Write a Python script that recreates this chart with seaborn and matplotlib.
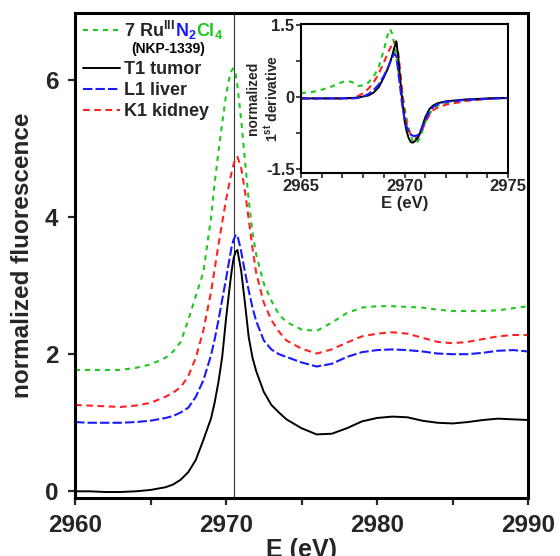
import numpy as np
import pandas as pd
import matplotlib
matplotlib.use("Agg")
import matplotlib.pyplot as plt
from matplotlib.ticker import MultipleLocator, FixedLocator
import seaborn as sns

# ---------------- data ----------------
energy_main = [2960, 2961, 2962, 2963, 2964, 2965, 2966, 2966.5, 2967, 2967.5,
               2968, 2968.5, 2969, 2969.25, 2969.5, 2969.75, 2970, 2970.25,
               2970.375, 2970.5, 2970.625, 2970.75, 2971, 2971.25, 2971.5,
               2971.75, 2972, 2972.5, 2973, 2973.5, 2974, 2975, 2976,
               2977, 2978, 2979, 2980, 2981, 2982, 2983, 2984, 2985, 2986, 2987,
               2988, 2989, 2990]
nkp1339 = [1.77, 1.77, 1.77, 1.77, 1.80, 1.85, 1.95, 2.04, 2.18, 2.50,
           2.85, 3.20, 3.98, 4.50, 4.96, 5.38, 5.78, 6.07,
           6.14, 6.17, 6.10, 5.92, 5.42, 4.83, 4.25,
           3.78, 3.45, 3.03, 2.78, 2.58, 2.47, 2.36, 2.34,
           2.46, 2.60, 2.68, 2.70, 2.70, 2.69, 2.68, 2.65, 2.63, 2.63, 2.63,
           2.64, 2.67, 2.70]
t1_tumor = [0.00, 0.00, -0.01, -0.01, 0.00, 0.02, 0.06, 0.10, 0.17, 0.28,
            0.46, 0.75, 1.06, 1.30, 1.60, 1.97, 2.52, 3.00,
            3.22, 3.40, 3.49, 3.52, 3.22, 2.75, 2.25,
            1.95, 1.75, 1.45, 1.26, 1.15, 1.05, 0.92, 0.83,
            0.84, 0.92, 1.02, 1.07, 1.09, 1.08, 1.03, 1.00, 0.99, 1.01, 1.04,
            1.06, 1.05, 1.04]
l1_liver = [1.01, 1.00, 1.00, 1.00, 1.01, 1.03, 1.07, 1.10, 1.15, 1.22,
            1.38, 1.62, 1.98, 2.22, 2.50, 2.80, 3.10, 3.42,
            3.57, 3.67, 3.73, 3.74, 3.50, 3.20, 2.93,
            2.68, 2.48, 2.20, 2.07, 2.00, 1.96, 1.88, 1.82,
            1.86, 1.96, 2.03, 2.06, 2.07, 2.06, 2.04, 2.01, 2.00, 2.00, 2.02,
            2.05, 2.06, 2.04]
k1_kidney = [1.26, 1.25, 1.24, 1.23, 1.25, 1.29, 1.38, 1.44, 1.52, 1.68,
             1.95, 2.35, 2.90, 3.25, 3.60, 3.93, 4.25, 4.53,
             4.66, 4.77, 4.85, 4.88, 4.72, 4.38, 3.97,
             3.55, 3.18, 2.75, 2.50, 2.33, 2.20, 2.08, 2.01,
             2.07, 2.17, 2.26, 2.30, 2.32, 2.30, 2.24, 2.18, 2.16, 2.18, 2.22,
             2.26, 2.28, 2.28]

energy_deriv = [2965, 2965.5, 2966, 2966.5, 2967, 2967.25, 2967.5, 2967.75, 2968,
                2968.25, 2968.5, 2968.75, 2969, 2969.2, 2969.3, 2969.4, 2969.5,
                2969.6, 2969.7, 2969.8, 2969.9, 2970, 2970.1, 2970.2, 2970.3,
                2970.4, 2970.5, 2970.6, 2970.7, 2970.8, 2970.9, 2971, 2971.2,
                2971.4, 2971.6, 2971.8, 2972, 2972.5, 2973, 2973.5, 2974, 2974.5,
                2975]
d_nkp1339 = [0.08, 0.10, 0.15, 0.22, 0.31, 0.34, 0.30, 0.23, 0.24,
             0.30, 0.42, 0.62, 0.98, 1.32, 1.41, 1.32, 1.10,
             0.82, 0.55, 0.30, 0.05, -0.22, -0.45, -0.65, -0.80,
             -0.93, -0.97, -0.95, -0.88, -0.78, -0.65, -0.52, -0.35,
             -0.24, -0.18, -0.15, -0.13, -0.10, -0.07, -0.05, -0.04, -0.03,
             -0.02]
d_t1_tumor = [-0.03, -0.03, -0.03, -0.03, -0.03, -0.02, -0.02, -0.01, 0.01,
              0.03, 0.09, 0.20, 0.41, 0.60, 0.72, 0.86, 1.02,
              1.16, 0.80, 0.30, -0.12, -0.50, -0.72, -0.86, -0.94,
              -0.95, -0.92, -0.87, -0.80, -0.68, -0.55, -0.42, -0.25,
              -0.17, -0.13, -0.11, -0.09, -0.07, -0.05, -0.04, -0.03, -0.02,
              -0.02]
d_l1_liver = [-0.03, -0.03, -0.03, -0.03, -0.03, -0.03, -0.03, -0.02, 0.01,
              0.06, 0.14, 0.26, 0.44, 0.62, 0.72, 0.82, 0.90,
              0.85, 0.50, 0.15, -0.22, -0.45, -0.62, -0.73, -0.78,
              -0.81, -0.81, -0.80, -0.77, -0.68, -0.58, -0.48, -0.30,
              -0.20, -0.15, -0.12, -0.10, -0.08, -0.06, -0.05, -0.04, -0.03,
              -0.02]
d_k1_kidney = [-0.03, -0.03, -0.03, -0.03, -0.03, -0.03, -0.02, 0.02, 0.08,
               0.17, 0.30, 0.48, 0.72, 0.92, 1.01, 1.09, 1.15,
               1.12, 0.90, 0.50, 0.05, -0.35, -0.55, -0.70, -0.79,
               -0.84, -0.86, -0.84, -0.79, -0.72, -0.63, -0.53, -0.37,
               -0.27, -0.22, -0.19, -0.16, -0.12, -0.08, -0.06, -0.04, -0.03,
               -0.02]

white_line_energy = 2970.5

main_xticks = [2960, 2970, 2980, 2990]
main_xtick_labels = ["2960", "2970", "2980", "2990"]
main_yticks = [0, 2, 4, 6]
main_ytick_labels = ["0", "2", "4", "6"]
inset_xticks = [2965, 2970, 2975]
inset_xtick_labels = ["2965", "2970", "2975"]
inset_yticks = [-1.5, 0, 1.5]
inset_ytick_labels = ["-1.5", "0", "1.5"]

GREEN = "#1ec81e"
BLUE = "#1a1aff"
RED = "#ff2222"
BLACK = "#000000"

# ---------------- style ----------------
sns.set_style("ticks")
plt.rcParams["font.family"] = ["Liberation Sans", "DejaVu Sans"]
plt.rcParams["font.weight"] = "bold"
plt.rcParams["axes.labelweight"] = "bold"
plt.rcParams["mathtext.fontset"] = "custom"
plt.rcParams["mathtext.rm"] = "Liberation Sans:bold"
plt.rcParams["mathtext.bf"] = "Liberation Sans:bold"
plt.rcParams["mathtext.it"] = "Liberation Sans:bold"
plt.rcParams["mathtext.default"] = "rm"

fig = plt.figure(figsize=(5.6, 5.56), dpi=100)
ax = fig.add_axes([0.134, 0.104, 0.809, 0.873])

LW = 1.5
styles = {
    "nkp": dict(color=GREEN, linestyle=(0, (2.4, 2.4)), lw=LW),
    "t1": dict(color=BLACK, linestyle="-", lw=1.4),
    "l1": dict(color=BLUE, linestyle=(0, (4.5, 1.5)), lw=LW),
    "k1": dict(color=RED, linestyle=(0, (3.2, 2.2)), lw=LW),
}

ax.axvline(white_line_energy, color="#333333", lw=0.8, zorder=1)

sns.lineplot(x=energy_main, y=nkp1339, ax=ax, **styles["nkp"])
sns.lineplot(x=energy_main, y=k1_kidney, ax=ax, **styles["k1"])
sns.lineplot(x=energy_main, y=l1_liver, ax=ax, **styles["l1"])
sns.lineplot(x=energy_main, y=t1_tumor, ax=ax, **styles["t1"])
h_nkp, h_k1, h_l1, h_t1 = ax.lines[1:5]

ax.set_xlim(2960, 2990)
ax.set_ylim(-0.1, 6.98)
ax.xaxis.set_major_locator(FixedLocator(main_xticks))
ax.set_xticklabels(main_xtick_labels)
ax.xaxis.set_minor_locator(MultipleLocator(5))
ax.yaxis.set_major_locator(FixedLocator(main_yticks))
ax.set_yticklabels(main_ytick_labels)
ax.tick_params(axis="both", which="both", direction="out", length=5, width=1.6,
               labelsize=17.5, top=False, right=False)
ax.tick_params(axis="x", which="both", pad=6.5)
ax.tick_params(axis="y", which="both", pad=7)
for lab in ax.get_xticklabels() + ax.get_yticklabels():
    lab.set_fontweight("bold")
for sp in ax.spines.values():
    sp.set_linewidth(2.2)
    sp.set_color("black")
ax.set_xlabel("E (eV)", fontsize=18, fontweight="bold", labelpad=0.5)
ax.set_ylabel("normalized fluorescence", fontsize=17.5, fontweight="bold", labelpad=8)

# legends
leg_prop = dict(weight="bold", size=13)
legA = ax.legend([h_nkp], ["7 Ru$^{III}$"], loc="upper left",
                 bbox_to_anchor=(0.0177, 0.984), borderpad=0, borderaxespad=0,
                 frameon=False, handlelength=2.05, handletextpad=0.2, prop=leg_prop)
ax.add_artist(legA)
legB = ax.legend([h_t1, h_l1, h_k1], ["T1 tumor", "L1 liver", "K1 kidney"],
                 loc="upper left", bbox_to_anchor=(0.0177, 0.901), borderpad=0,
                 borderaxespad=0, frameon=False, handlelength=2.05,
                 handletextpad=0.2, labelspacing=0.23, prop=leg_prop)

fig.canvas.draw()
tA = legA.get_texts()[0]
a1 = ax.annotate("N$_2$", xy=(1, 0), xycoords=tA, ha="left", va="bottom",
                 color=BLUE, fontsize=13, fontweight="bold", zorder=7)
a2 = ax.annotate("Cl$_4$", xy=(1, 0), xycoords=(a1, tA), ha="left", va="bottom",
                 color=GREEN, fontsize=13, fontweight="bold", zorder=7)
a3 = ax.annotate("(NKP-1339)", xy=(0, 0), xycoords=tA, xytext=(8, -12),
                 textcoords="offset pixels", ha="left", va="baseline",
                 color=BLACK, fontsize=10, fontweight="bold", zorder=7)

# ---------------- inset ----------------
ax_in = fig.add_axes([0.5375, 0.689, 0.370, 0.268])
ax_in.set_facecolor("white")
sns.lineplot(x=energy_deriv, y=d_nkp1339, ax=ax_in, **styles["nkp"])
sns.lineplot(x=energy_deriv, y=d_k1_kidney, ax=ax_in, **styles["k1"])
sns.lineplot(x=energy_deriv, y=d_t1_tumor, ax=ax_in, **styles["t1"])
sns.lineplot(x=energy_deriv, y=d_l1_liver, ax=ax_in, **styles["l1"])
ax_in.set_xlim(2965, 2975)
ax_in.set_ylim(-1.58, 1.52)
ax_in.xaxis.set_major_locator(FixedLocator(inset_xticks))
ax_in.set_xticklabels(inset_xtick_labels)
ax_in.xaxis.set_minor_locator(MultipleLocator(1))
ax_in.yaxis.set_major_locator(FixedLocator(inset_yticks))
ax_in.set_yticklabels(inset_ytick_labels)
ax_in.yaxis.set_minor_locator(MultipleLocator(0.75))
ax_in.tick_params(axis="both", which="both", direction="out", length=3.6,
                  width=1.2, labelsize=12, pad=1, top=False, right=False)
for lab in ax_in.get_xticklabels() + ax_in.get_yticklabels():
    lab.set_fontweight("bold")
for sp in ax_in.spines.values():
    sp.set_linewidth(1.5)
    sp.set_color("black")
ax_in.set_xlabel("E (eV)", fontsize=12, fontweight="bold", labelpad=1)
ax_in.set_ylabel("normalized\n1$^{st}$ derivative", fontsize=10,
                 fontweight="bold", linespacing=1.25)
ax_in.yaxis.set_label_coords(-0.097, 0.5)

fig.savefig("out.png", dpi=100)
